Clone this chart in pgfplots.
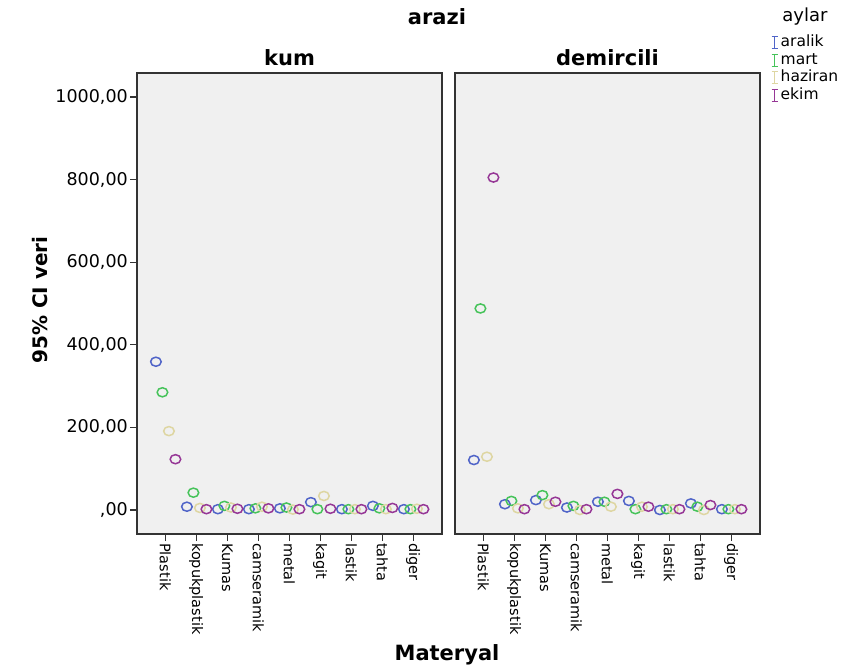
\documentclass[border=0pt]{standalone}
\usepackage{fontspec}
\setmainfont{DejaVu Sans}
\usepackage{pgfplots}
\usepackage{pgfplotstable}
\pgfplotsset{compat=1.18}

\definecolor{caralik}{RGB}{80,100,200}
\definecolor{cmart}{RGB}{70,195,90}
\definecolor{chaziran}{RGB}{222,214,162}
\definecolor{cekim}{RGB}{150,55,150}
\definecolor{panelbg}{RGB}{240,240,240}

% mean values per material (rows) and month (columns)
\pgfplotstableread{
i aralik mart haziran ekim
0 359 285 191 123
1 8   42  5   2
2 2   10  6   3
3 2   4   8   4
4 4   6   1   2
5 19  2   34  3
6 2   2   2   2
7 10  4   2   5
8 2   2   3   2
}\kum

\pgfplotstableread{
i aralik mart haziran ekim
0 121 488 129 805
1 14  22  4   2
2 24  36  14  20
3 6   10  0   2
4 20  20  8   39
5 22  2   8   8
6 0   2   2   2
7 16  8   0   12
8 2   2   2   2
}\demircili

\pgfplotsset{
  panel/.style={
    scale only axis, width=305pt, height=461pt, anchor=south west,
    xmin=-0.91, xmax=8.93, ymin=-58.1, ymax=1058.1,
    axis background/.style={fill=panelbg},
    axis line style={draw=black!80, line width=1.3pt},
    tick align=outside, major tick length=7pt,
    tick style={draw=black!80, line width=1.1pt},
    xtick={0,...,8},
    xticklabels={Plastik,kopukplastik,Kumas,camseramik,metal,kagit,lastik,tahta,diger},
    xtick pos=bottom,
    xticklabel style={rotate=-90, anchor=west, font=\fontsize{14.5}{16}\selectfont, inner sep=2pt},
  },
  pt/.style={only marks, mark=o, mark size=5.3pt, forget plot,
    mark options={solid, line width=1.5pt, yscale=0.86}},
  ibar/.style={line width=1.3pt,
    legend image code/.code={\draw (3pt,-6pt)--(3pt,6pt) (0pt,6pt)--(6pt,6pt) (0pt,-6pt)--(6pt,-6pt);}},
}

\begin{document}
\begin{tikzpicture}
\useasboundingbox (0pt,0pt) rectangle (849pt,670pt);

\begin{axis}[panel, at={(137pt,136pt)},
    ytick={0,200,400,600,800,1000},
    yticklabels={{,00},{200,00},{400,00},{600,00},{800,00},{1000,00}},
    ytick pos=left,
    yticklabel style={font=\fontsize{17.5}{19}\selectfont, inner sep=2pt},
]
\addplot[pt, color=caralik] table[x expr=\thisrow{i}-0.30, y=aralik]{\kum};
\addplot[pt, color=cmart] table[x expr=\thisrow{i}-0.09, y=mart]{\kum};
\addplot[pt, color=chaziran] table[x expr=\thisrow{i}+0.12, y=haziran]{\kum};
\addplot[pt, color=cekim] table[x expr=\thisrow{i}+0.33, y=ekim]{\kum};
\end{axis}

\begin{axis}[panel, at={(455pt,136pt)}, ytick=\empty,
    legend style={at={(1.035,1.085)}, anchor=north west, draw=none, fill=none,
      inner sep=0pt, row sep=0pt, font=\fontsize{15.5}{17}\selectfont,
      nodes={text height=11pt, text depth=3.5pt, inner ysep=1.5pt, inner xsep=2.5pt}},
    legend cell align=left,
]
\addplot[pt, color=caralik] table[x expr=\thisrow{i}-0.30, y=aralik]{\demircili};
\addplot[pt, color=cmart] table[x expr=\thisrow{i}-0.09, y=mart]{\demircili};
\addplot[pt, color=chaziran] table[x expr=\thisrow{i}+0.12, y=haziran]{\demircili};
\addplot[pt, color=cekim] table[x expr=\thisrow{i}+0.33, y=ekim]{\demircili};
\addlegendimage{ibar, caralik}\addlegendentry{aralik}
\addlegendimage{ibar, cmart}\addlegendentry{mart}
\addlegendimage{ibar, chaziran}\addlegendentry{haziran}
\addlegendimage{ibar, cekim}\addlegendentry{ekim}
\end{axis}

\node[font=\bfseries\fontsize{21}{24}\selectfont] at (437pt,653pt) {arazi};
\node[font=\bfseries\fontsize{21}{24}\selectfont] at (289.5pt,612pt) {kum};
\node[font=\bfseries\fontsize{21}{24}\selectfont] at (607.5pt,612pt) {demircili};
\node[font=\bfseries\fontsize{21}{24}\selectfont] at (447pt,15pt) {Materyal};
\node[font=\bfseries\fontsize{20}{23}\selectfont, rotate=90] at (40pt,370pt) {95\% CI veri};
\node[font=\fontsize{18}{20}\selectfont] at (805pt,653pt) {aylar};
\end{tikzpicture}
\end{document}
